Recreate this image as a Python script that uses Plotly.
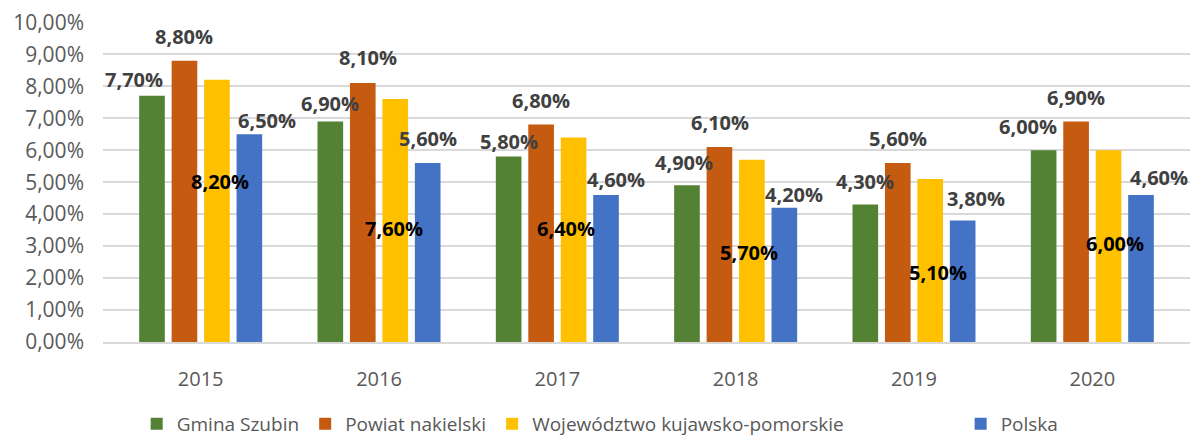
import plotly.graph_objects as go

# ---- data ----
years = ["2015", "2016", "2017", "2018", "2019", "2020"]
gmina_szubin = [7.7, 6.9, 5.8, 4.9, 4.3, 6.0]
powiat_nakielski = [8.8, 8.1, 6.8, 6.1, 5.6, 6.9]
wojewodztwo = [8.2, 7.6, 6.4, 5.7, 5.1, 6.0]
polska = [6.5, 5.6, 4.6, 4.2, 3.8, 4.6]
series_names = ["Gmina Szubin", "Powiat nakielski", "Województwo kujawsko-pomorskie", "Polska"]
y_ticks = list(range(0, 11))

# ---- style ----
colors = ["#548235", "#C55A11", "#FFC000", "#4472C4"]
FONT = "Open Sans"
BARGAP = 0.272
BARGROUPGAP = 0.21
label_colors = ["#404040", "#404040", "#000000", "#404040"]
# per-label pixel offsets (label placement as in the original, manually moved labels)
label_xshift = [
    [-18, 0, 0, -3, 0, -16],
    [0, 5, 0, 1, 0, 0],
    [3, -1, -8, -3, 8, 6],
    [18, 0, 10, 10, 13, 18],
]
label_yshift = [
    [16, 18, 15, 23, 23, 24],
    [24, 26, 24, 25, 24, 24],
    [-102, -129, -91, -93, -94, -93],
    [14, 24, 15, 13, 22, 17],
]
# legend entry left positions (paper fraction of plot width)
legend_x = [0.031, 0.186, 0.358, 0.789]

# page body has an 8px margin -> compensate in figure size / margins
W, H, BODY = 1199, 436, 8
ML, MR, MT, MB = 103 - BODY, 9, 22 - BODY, 94

all_series = [gmina_szubin, powiat_nakielski, wojewodztwo, polska]


def fmt(v):
    return f"{v:.2f}".replace(".", ",") + "%"


fig = go.Figure()
legend_names = ["legend", "legend2", "legend3", "legend4"]
for name, vals, col, lg in zip(series_names, all_series, colors, legend_names):
    fig.add_trace(go.Bar(x=years, y=vals, name=name, legend=lg,
                         marker=dict(color=col, line=dict(width=0))))

slot = (1 - BARGAP) / len(all_series)
annotations = []
for si, vals in enumerate(all_series):
    for ci, v in enumerate(vals):
        annotations.append(dict(
            x=ci + (si - (len(all_series) - 1) / 2) * slot,
            y=v, xref="x", yref="y",
            text=fmt(v), showarrow=False,
            xanchor="center", yanchor="middle",
            xshift=label_xshift[si][ci], yshift=label_yshift[si][ci],
            font=dict(family=FONT, size=20, color=label_colors[si], weight="bold"),
        ))

legend_common = dict(
    orientation="h", xanchor="left", y=-0.256, yanchor="middle",
    font=dict(family=FONT, size=19, color="#595959"),
    itemwidth=30, bgcolor="rgba(0,0,0,0)",
)

fig.update_layout(
    width=W - BODY, height=H - BODY,
    margin=dict(l=ML, r=MR, t=MT, b=MB, autoexpand=False),
    paper_bgcolor="white", plot_bgcolor="white",
    barmode="group", bargap=BARGAP, bargroupgap=BARGROUPGAP,
    font=dict(family=FONT, color="#595959"),
    annotations=annotations,
    showlegend=True,
    legend=dict(x=legend_x[0], **legend_common),
    legend2=dict(x=legend_x[1], **legend_common),
    legend3=dict(x=legend_x[2], **legend_common),
    legend4=dict(x=legend_x[3], **legend_common),
)
fig.update_yaxes(
    range=[0, 10.01], tickvals=y_ticks, ticktext=[fmt(v) for v in y_ticks],
    showgrid=True, gridcolor="#d9d9d9", gridwidth=1.5,
    zeroline=False, showline=False, automargin=False,
    tickfont=dict(family=FONT, size=21, color="#595959"),
    ticklabelstandoff=18, ticklabeloverflow="allow",
)
fig.update_xaxes(
    showline=True, linecolor="#d9d9d9", linewidth=1.5, automargin=False,
    tickfont=dict(family=FONT, size=20, color="#595959"),
    ticklabelstandoff=18,
)

fig.write_html("out.html")
